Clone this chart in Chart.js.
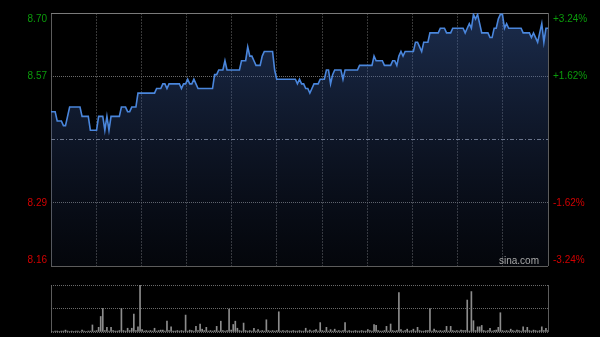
<!DOCTYPE html>
<html>
<head>
<meta charset="utf-8">
<script src="https://cdn.jsdelivr.net/npm/chart.js@4.4.1/dist/chart.umd.min.js"></script>
<style>
  html, body { margin: 0; padding: 0; background: #000; }
  #wrap { position: relative; width: 600px; height: 337px; overflow: hidden; }
  #price { position: absolute; left: 0; top: 0; }
  #vol { position: absolute; left: 0; top: 275px; }
  #brand { position: absolute; left: 499px; top: 255px; font: 10px "Liberation Sans", Arial, sans-serif; color: #a8a8a8; }
</style>
</head>
<body>
<div id="wrap">
  <canvas id="price" width="600" height="275"></canvas>
  <canvas id="vol" width="600" height="62"></canvas>
  <div id="brand">sina.com</div>
</div>
<script>
// one value per trading minute, 9:30 -> 15:00
const prices = [
  8.49,8.49,8.49,8.47,8.47,8.47,8.46,8.46,8.48,8.50,
  8.50,8.50,8.50,8.50,8.50,8.48,8.48,8.48,8.48,8.45,
  8.45,8.45,8.45,8.48,8.48,8.48,8.45,8.48,8.45,8.48,
  8.48,8.48,8.48,8.48,8.50,8.50,8.50,8.49,8.49,8.50,
  8.50,8.50,8.53,8.53,8.53,8.53,8.53,8.53,8.53,8.53,
  8.53,8.54,8.54,8.54,8.55,8.55,8.54,8.55,8.55,8.55,
  8.55,8.55,8.55,8.54,8.55,8.55,8.56,8.55,8.55,8.56,
  8.55,8.54,8.54,8.54,8.54,8.54,8.54,8.54,8.54,8.57,
  8.57,8.58,8.58,8.58,8.60,8.58,8.58,8.58,8.58,8.58,
  8.58,8.58,8.60,8.60,8.60,8.63,8.61,8.61,8.60,8.59,
  8.59,8.59,8.61,8.62,8.62,8.62,8.62,8.62,8.58,8.56,
  8.56,8.56,8.56,8.56,8.56,8.56,8.56,8.56,8.56,8.55,
  8.56,8.55,8.55,8.54,8.54,8.53,8.54,8.55,8.55,8.55,
  8.56,8.56,8.56,8.58,8.58,8.55,8.57,8.58,8.58,8.58,
  8.58,8.56,8.58,8.58,8.58,8.58,8.58,8.58,8.58,8.59,
  8.59,8.59,8.59,8.59,8.59,8.59,8.61,8.60,8.60,8.60,
  8.60,8.59,8.59,8.59,8.59,8.60,8.60,8.59,8.61,8.62,
  8.61,8.62,8.62,8.62,8.62,8.62,8.64,8.64,8.63,8.62,
  8.64,8.64,8.64,8.66,8.66,8.66,8.66,8.66,8.67,8.67,
  8.67,8.66,8.66,8.66,8.67,8.67,8.67,8.67,8.67,8.67,
  8.66,8.67,8.68,8.67,8.70,8.69,8.70,8.68,8.66,8.66,
  8.66,8.66,8.65,8.65,8.67,8.67,8.69,8.70,8.70,8.67,
  8.68,8.67,8.67,8.67,8.67,8.67,8.67,8.67,8.66,8.66,
  8.66,8.66,8.65,8.66,8.65,8.64,8.66,8.68,8.64,8.67,
  8.67
];

const volumes = [
  2,1,2,2,1,2,2,4,2,1,
  2,1,2,2,1,4,2,1,2,2,
  15,2,3,10,33,50,3,10,2,10,
  3,2,2,3,50,3,2,8,3,8,
  38,3,11,100,5,2,3,2,3,2,
  8,2,3,4,4,2,23,3,11,2,
  2,3,2,3,2,36,2,4,3,2,
  12,3,17,6,3,10,2,3,2,3,
  12,2,23,3,2,3,49,4,16,23,
  8,3,2,19,3,2,3,2,8,2,
  5,2,3,2,26,3,2,3,2,3,
  43,2,3,2,3,2,2,3,2,2,
  3,2,2,8,2,4,2,3,5,2,
  20,3,2,10,2,5,2,6,2,3,
  2,3,20,2,3,2,2,3,2,2,
  3,2,2,5,3,2,16,14,3,2,
  2,3,12,2,17,3,2,3,84,5,
  2,3,6,2,3,6,2,10,3,2,
  2,3,3,50,2,6,3,2,3,2,
  3,12,2,12,3,2,3,2,4,3,
  3,68,2,86,24,3,11,11,14,3,
  2,3,8,2,3,4,10,41,3,2,
  3,2,6,3,2,4,3,2,11,3,
  10,3,2,4,3,2,3,11,3,8,
  3
];

const prevClose = 8.43;
const priceMin = 8.157;
const priceMax = 8.703;
const gridPrices = [8.157, 8.2935, 8.43, 8.5665, 8.703];
const leftLabels = ['8.70', '8.57', '8.29', '8.16'];
const rightLabels = ['+3.24%', '+1.62%', '-1.62%', '-3.24%'];
const lastMinute = 240;

const labelFont = { family: '"Liberation Sans", Arial, sans-serif', size: 10 };
const labelColor = i => (i < 2 ? '#0b9b0b' : '#d20000');

// label ticks: top and bottom labels sit inside the frame
function labelTicks(scale) {
  const nudge = (priceMax - priceMin) * 6 / 253;
  scale.ticks = [priceMax - nudge, gridPrices[3], gridPrices[1], priceMin + nudge].map(v => ({ value: v }));
}

function minuteTicks(scale) {
  const t = [];
  for (let k = 0; k <= 11; k++) t.push({ value: lastMinute * k / 11 });
  scale.ticks = t;
}

function fixWidth(w) {
  return s => { s.width = w; s.paddingTop = 0; s.paddingBottom = 0; };
}

const priceChart = new Chart(document.getElementById('price'), {
  type: 'line',
  data: {
    datasets: [{
      data: prices.map((p, i) => ({ x: i, y: p })),
      borderColor: '#4a86dc',
      borderWidth: 1.6,
      pointRadius: 0,
      tension: 0,
      fill: 'start',
      backgroundColor: ctx => {
        const area = ctx.chart.chartArea;
        if (!area) return 'rgba(50,80,140,0.3)';
        const g = ctx.chart.ctx.createLinearGradient(0, area.top, 0, area.bottom);
        g.addColorStop(0, 'rgba(60,98,170,0.45)');
        g.addColorStop(1, 'rgba(40,60,110,0.10)');
        return g;
      }
    }]
  },
  options: {
    responsive: false,
    animation: false,
    layout: { padding: { top: 13, bottom: 9, left: 0, right: 0 } },
    plugins: { legend: { display: false }, tooltip: { enabled: false } },
    scales: {
      x: {
        type: 'linear',
        min: 0,
        max: lastMinute,
        afterBuildTicks: minuteTicks,
        afterFit: s => { s.height = 0; },
        ticks: { display: false },
        grid: {
          drawTicks: false,
          color: ctx => (ctx.index === 0 || ctx.index === 11 ? '#5c5c5c' : '#383838')
        },
        border: {
          display: false,
          dash: ctx => (ctx.index === 0 || ctx.index === 11 ? [] : [2, 1])
        }
      },
      yl: {
        position: 'left',
        min: priceMin,
        max: priceMax,
        afterBuildTicks: labelTicks,
        afterFit: fixWidth(51),
        ticks: {
          padding: 4,
          font: labelFont,
          color: ctx => labelColor(ctx.index),
          callback: (v, i) => leftLabels[i]
        },
        grid: { display: false, drawTicks: false },
        border: { display: false }
      },
      y: {
        position: 'left',
        min: priceMin,
        max: priceMax,
        afterBuildTicks: s => { s.ticks = gridPrices.map(v => ({ value: v })); },
        afterFit: fixWidth(0),
        ticks: { display: false },
        grid: {
          drawTicks: false,
          color: ctx => ['#5c5c5c', '#6a6a6a', '#80848c', '#6a6a6a', '#7a7a7a'][ctx.index]
        },
        border: {
          display: false,
          dash: ctx => [[], [1, 1], [4, 2, 1, 2], [1, 1], []][ctx.index]
        }
      },
      yr: {
        position: 'right',
        min: priceMin,
        max: priceMax,
        afterBuildTicks: labelTicks,
        afterFit: fixWidth(52),
        ticks: {
          padding: 5,
          font: labelFont,
          color: ctx => labelColor(ctx.index),
          callback: (v, i) => rightLabels[i]
        },
        grid: { display: false, drawTicks: false },
        border: { display: false }
      }
    }
  }
});

const volumeChart = new Chart(document.getElementById('vol'), {
  type: 'bar',
  data: {
    datasets: [{
      data: volumes.map((v, i) => ({ x: i, y: v })),
      backgroundColor: '#8c8c8c',
      barThickness: 1
    }]
  },
  options: {
    responsive: false,
    animation: false,
    layout: { padding: { top: 10, bottom: 5, left: 51, right: 52 } },
    plugins: { legend: { display: false }, tooltip: { enabled: false } },
    scales: {
      x: {
        type: 'linear',
        offset: false,
        min: 0,
        max: lastMinute,
        afterBuildTicks: s => { s.ticks = [{ value: 0 }, { value: lastMinute }]; },
        afterFit: s => { s.height = 0; },
        ticks: { display: false },
        grid: { offset: false, drawTicks: false, color: '#5c5c5c' },
        border: { display: false }
      },
      y: {
        min: 0,
        max: 100,
        afterBuildTicks: s => { s.ticks = [0, 50, 100].map(v => ({ value: v })); },
        afterFit: s => { s.width = 0; },
        ticks: { display: false },
        grid: { drawTicks: false, color: '#6a6a6a' },
        border: { display: false, dash: [1, 1] }
      }
    }
  }
});
</script>
</body>
</html>
